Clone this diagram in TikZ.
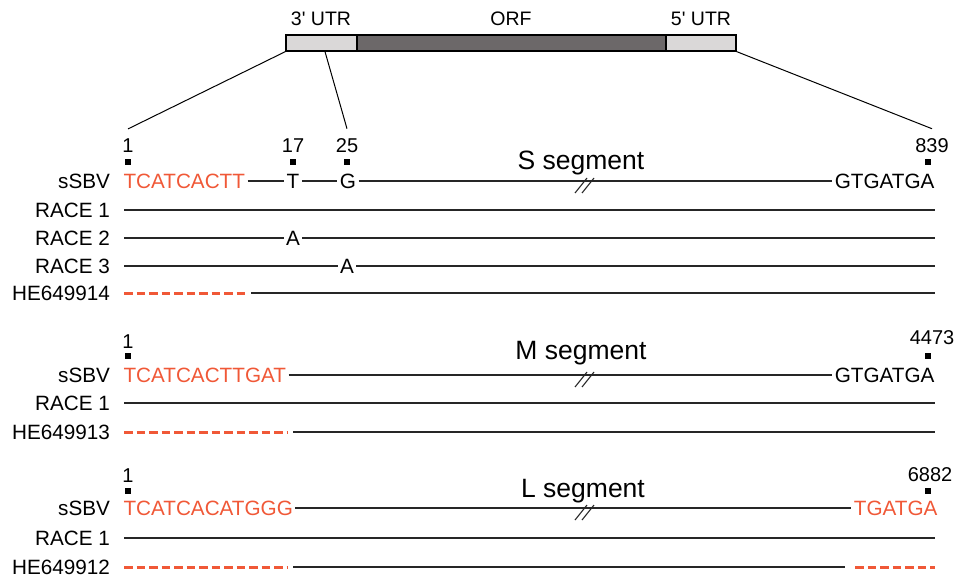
\documentclass[tikz,border=0pt]{standalone}
\usepackage{fontspec}
\setmainfont{Liberation Sans}
\definecolor{seqred}{RGB}{240,88,55}
\definecolor{utrgray}{RGB}{218,216,216}
\definecolor{orfgray}{RGB}{108,104,105}
\newcommand\brkmark[1]{\draw[brk] (#1) ++(-8,12) -- ++(12,-15); \draw[brk] (#1) ++(-1,12) -- ++(12,-15);}
\begin{document}
\begin{tikzpicture}[x=1pt,y=-1pt,
  txt/.style={inner sep=0pt, outer sep=0pt, font=\fontsize{20.7}{25}\selectfont, text height=15pt, text depth=0pt},
  seq/.style={txt, outer sep=2.5pt},
  redseq/.style={seq, text=seqred},
  lab/.style={txt, anchor=east},
  num/.style={inner sep=0pt, font=\fontsize{20}{24}\selectfont},
  tick/.style={fill=black, minimum size=6pt, inner sep=0pt},
  rowline/.style={line width=1.5pt, black!85},
  reddash/.style={line width=3pt, seqred, dash pattern=on 8.5pt off 4pt},
  brk/.style={line width=1.1pt, black!85},
  seglab/.style={inner sep=0pt, font=\fontsize{26.5}{30}\selectfont},
  barpart/.style={draw=black, line width=1.2pt, inner sep=0pt, minimum height=16pt},
  barlab/.style={inner sep=0pt, font=\fontsize{19.5}{23}\selectfont},
  zoomline/.style={line width=1pt, black}
]
\useasboundingbox (0,0) rectangle (957,581);

% ---------- top gene bar ----------
\node[barpart, fill=utrgray, minimum width=71pt] (utr3) at (321.5,43) {};
\node[barpart, fill=orfgray, minimum width=309pt] (orf) at (511.5,43) {};
\node[barpart, fill=utrgray, minimum width=70pt] (utr5) at (701,43) {};
\node[barlab] (lutr3) at (321,19) {3\textquotesingle{} UTR};
\node[barlab] (lorf) at (511,19) {ORF};
\node[barlab] (lutr5) at (701,19) {5\textquotesingle{} UTR};

% ---------- S segment ----------
\node[num] (sN1) at (128,146) {1};
\node[num] (sN17) at (293,146) {17};
\node[num] (sN25) at (347,146) {25};
\node[num] (sN839) at (932,146) {839};
\node[tick] (sK1) at (128,162) {};
\node[tick] (sK17) at (293,162) {};
\node[tick] (sK25) at (347,162) {};
\node[tick] (sK839) at (928,162) {};
\node[seglab] (sTitle) at (581,163) {S segment};

\draw[zoomline] (utr3.south west) -- ([yshift=10pt]sN1.north);
\draw[zoomline] ([xshift=3.5pt]utr3.south) -- ([yshift=10pt]sN25.north);
\draw[zoomline] (utr5.south east) -- ([yshift=10pt]sN839.north);

\node[lab] (sL0) at (110,181) {sSBV};
\node[redseq, anchor=west] (sA) at (121,181) {TCATCACTT};
\node[seq] (sT) at (293,181) {T};
\node[seq] (sG) at (348,181) {G};
\node[seq, anchor=east] (sE) at (937,181) {GTGATGA};
\coordinate (sB) at (583,181);
\draw[rowline] (sA) -- (sT) -- (sG) -- (sE);
\brkmark{sB}

\node[lab] (sL1) at (110,210) {RACE 1};
\coordinate (s1a) at (124,210); \coordinate (s1b) at (935,210);
\draw[rowline] (s1a) -- (s1b);

\node[lab] (sL2) at (110,238) {RACE 2};
\coordinate (s2a) at (124,238); \coordinate (s2b) at (935,238);
\node[seq] (s2A) at (293,238) {A};
\draw[rowline] (s2a) -- (s2A) -- (s2b);

\node[lab] (sL3) at (110,266) {RACE 3};
\coordinate (s3a) at (124,266); \coordinate (s3b) at (935,266);
\node[seq] (s3A) at (347,266) {A};
\draw[rowline] (s3a) -- (s3A) -- (s3b);

\node[lab] (sL4) at (110,293) {HE649914};
\coordinate (s4a) at (124,293); \coordinate (s4m) at (247,293);
\coordinate (s4n) at (251,293); \coordinate (s4b) at (935,293);
\draw[reddash] (s4a) -- (s4m);
\draw[rowline] (s4n) -- (s4b);

% ---------- M segment ----------
\node[num] (mN1) at (128,342) {1};
\node[num] (mN4473) at (932,338) {4473};
\node[tick] (mK1) at (128,356) {};
\node[tick] (mK4473) at (928,356) {};
\node[seglab] (mTitle) at (581,353) {M segment};

\node[lab] (mL0) at (110,375) {sSBV};
\node[redseq, anchor=west] (mA) at (121,375) {TCATCACTTGAT};
\node[seq, anchor=east] (mE) at (937,375) {GTGATGA};
\coordinate (mB) at (583,375);
\draw[rowline] (mA) -- (mE);
\brkmark{mB}

\node[lab] (mL1) at (110,403) {RACE 1};
\coordinate (m1a) at (124,403); \coordinate (m1b) at (935,403);
\draw[rowline] (m1a) -- (m1b);

\node[lab] (mL2) at (110,432) {HE649913};
\coordinate (m2a) at (124,432); \coordinate (m2m) at (287,432);
\coordinate (m2n) at (293,432); \coordinate (m2b) at (935,432);
\draw[reddash] (m2a) -- (m2m);
\draw[rowline] (m2n) -- (m2b);

% ---------- L segment ----------
\node[num] (lN1) at (128,476) {1};
\node[num] (lN6882) at (930,475) {6882};
\node[tick] (lK1) at (128,491) {};
\node[tick] (lK6882) at (928,491) {};
\node[seglab] (lTitle) at (583,491) {L segment};

\node[lab] (lL0) at (110,508) {sSBV};
\node[redseq, anchor=west] (lA) at (121,508) {TCATCACATGGG};
\node[redseq, anchor=east] (lE) at (940,508) {TGATGA};
\coordinate (lB) at (583,508);
\draw[rowline] (lA) -- (lE);
\brkmark{lB}

\node[lab] (lL1) at (110,538) {RACE 1};
\coordinate (l1a) at (124,538); \coordinate (l1b) at (935,538);
\draw[rowline] (l1a) -- (l1b);

\node[lab] (lL2) at (110,567) {HE649912};
\coordinate (l2a) at (124,567); \coordinate (l2m) at (287,567);
\coordinate (l2n) at (293,567); \coordinate (l2o) at (845,567);
\coordinate (l2p) at (855,567); \coordinate (l2b) at (935,567);
\draw[reddash] (l2a) -- (l2m);
\draw[rowline] (l2n) -- (l2o);
\draw[reddash] (l2p) -- (l2b);
\end{tikzpicture}
\end{document}
